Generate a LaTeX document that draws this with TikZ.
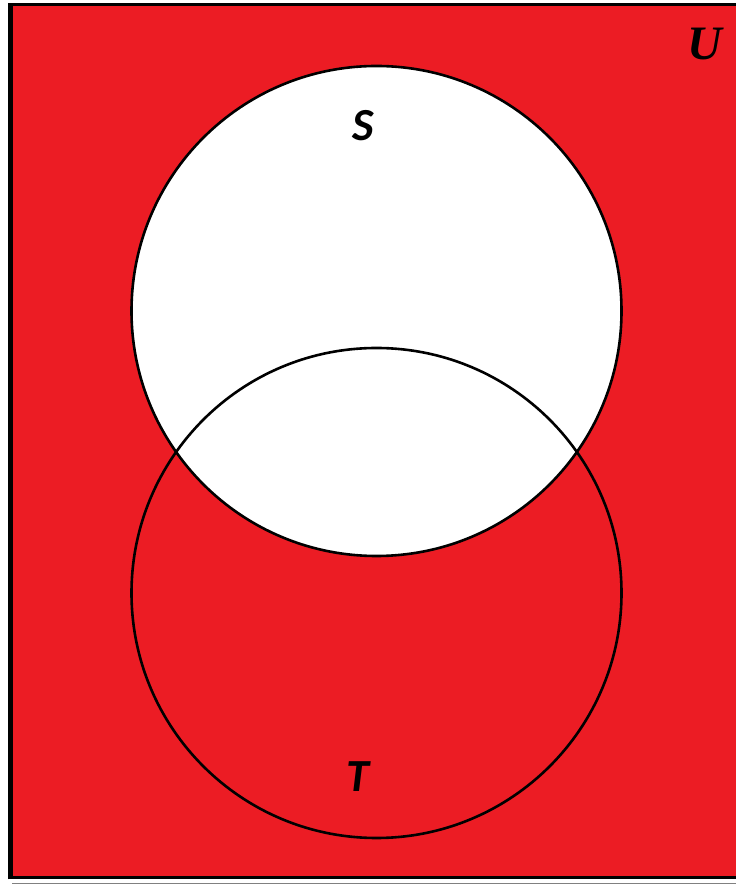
\documentclass[tikz,border=0pt]{standalone}
\usepackage{fontspec}
\setmainfont{Carlito}
\newfontfamily\ufont{Liberation Serif}
\definecolor{vred}{RGB}{236,28,36}
\begin{document}
\begin{tikzpicture}[x=1pt,y=1pt,
  setcircle/.style={line width=2.6pt},
  lbl/.style={font=\fontsize{46}{48}\selectfont\bfseries\itshape, inner sep=0pt}]
\useasboundingbox (0,0) rectangle (736,886);
\fill[white] (0,0) rectangle (736,886);
\fill[vred] (12,8) rectangle (736,881);
\draw[line width=4.5pt] (10.5,6.5) -- (10.5,883);
\draw[line width=3pt] (8.5,881.5) -- (736,881.5);
\draw[line width=3pt] (8.5,8) -- (736,8);
\draw[line width=1pt, gray] (12,2.5) -- (736,2.5);
\node[circle, fill=white, draw, setcircle, minimum size=490pt, inner sep=0pt] (S) at (376.5,575) {};
\node[circle, draw, setcircle, minimum size=490pt, inner sep=0pt] (T) at (376.5,293) {};
\node[lbl] (sl) at (363,760) {S};
\node[lbl] (tl) at (358,109) {T};
\node[font=\ufont\fontsize{48}{50}\selectfont\bfseries\itshape, inner sep=0pt] (ul) at (705,842) {U};
\end{tikzpicture}
\end{document}
